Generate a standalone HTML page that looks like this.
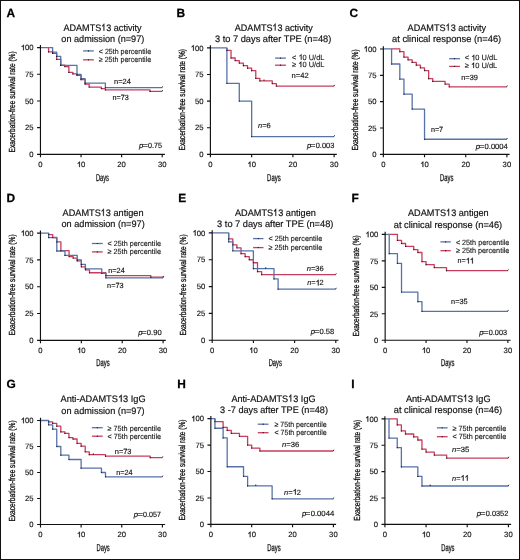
<!DOCTYPE html>
<html><head><meta charset="utf-8"><title>Kaplan-Meier curves</title>
<style>html,body{margin:0;padding:0;background:#fff;}svg{display:block;will-change:transform;text-rendering:geometricPrecision;}</style></head>
<body><svg width="520" height="560" viewBox="0 0 520 560" font-family='"Liberation Sans", sans-serif' fill="#111">
<rect x="0" y="0" width="520" height="560" fill="#fff"/>
<g><text x="6.4" y="16.6" font-size="11.9" font-weight="bold" fill="#000" stroke="#000" stroke-width="0.25">A</text><text x="63.5" y="30.7" font-size="9.4" textLength="78" lengthAdjust="spacingAndGlyphs" stroke="#111" stroke-width="0.18">ADAMTS 3 activity</text><text x="61.3" y="41.9" font-size="9.4" textLength="83" lengthAdjust="spacingAndGlyphs" stroke="#111" stroke-width="0.18">on admission (n=97)</text><path d="M48.58 47.6H48.58V51.97H52.63V53.47H56.69V59.34H60.75V65.1H64.81V66.59H68.87V72.46H72.92V73.95H76.98V75.34H81.04V79.72H85.1V84.09H89.16V87.08H101.33V88.57H105.39V89.96H150.03V91.45H162.2" fill="none" stroke="#c73d5e" stroke-width="1.3" stroke-linejoin="round"/><path d="M40.46 47.6H52.63V52.08H56.69V56.46H60.75V65.42H76.98V74.28H81.04V78.76H85.1V83.13H105.39V87.61H162.2" fill="none" stroke="#5872a8" stroke-width="1.3" stroke-linejoin="round"/><circle cx="52.63" cy="52.08" r="0.6"/><circle cx="56.69" cy="56.46" r="0.6"/><circle cx="60.75" cy="65.42" r="0.6"/><circle cx="76.98" cy="74.28" r="0.6"/><circle cx="81.04" cy="78.76" r="0.6"/><circle cx="85.1" cy="83.13" r="0.6"/><circle cx="105.39" cy="87.61" r="0.6"/><path d="M162 87.61l0.7 -1.3" stroke="#222" stroke-width="0.9" fill="none"/><circle cx="48.58" cy="51.97" r="0.6"/><circle cx="52.63" cy="53.47" r="0.6"/><circle cx="56.69" cy="59.34" r="0.6"/><circle cx="60.75" cy="65.1" r="0.6"/><circle cx="64.81" cy="66.59" r="0.6"/><circle cx="68.87" cy="72.46" r="0.6"/><circle cx="72.92" cy="73.95" r="0.6"/><circle cx="76.98" cy="75.34" r="0.6"/><circle cx="81.04" cy="79.72" r="0.6"/><circle cx="85.1" cy="84.09" r="0.6"/><circle cx="89.16" cy="87.08" r="0.6"/><circle cx="101.33" cy="88.57" r="0.6"/><circle cx="105.39" cy="89.96" r="0.6"/><circle cx="150.03" cy="91.45" r="0.6"/><path d="M162 91.45l0.7 -1.3" stroke="#222" stroke-width="0.9" fill="none"/><path d="M40.46 44.9V154.3H164.9" fill="none" stroke="#111" stroke-width="1.15"/><path d="M37.06 154.3H40.46M37.06 127.62H40.46M37.06 100.95H40.46M37.06 74.28H40.46M37.06 47.6H40.46M40.46 154.3V157.2M81.04 154.3V157.2M121.62 154.3V157.2M162.2 154.3V157.2" stroke="#111" stroke-width="1.15"/><text x="33.56" y="157.05" font-size="7.7" text-anchor="end" stroke="#111" stroke-width="0.15">0</text><text x="33.56" y="130.38" font-size="7.7" text-anchor="end" stroke="#111" stroke-width="0.15">25</text><text x="33.56" y="103.7" font-size="7.7" text-anchor="end" stroke="#111" stroke-width="0.15">50</text><text x="33.56" y="77.03" font-size="7.7" text-anchor="end" stroke="#111" stroke-width="0.15">75</text><text x="33.56" y="50.35" font-size="7.7" text-anchor="end" stroke="#111" stroke-width="0.15"> 00</text><text x="40.46" y="167.1" font-size="7.7" text-anchor="middle" stroke="#111" stroke-width="0.15">0</text><text x="81.04" y="167.1" font-size="7.7" text-anchor="middle" stroke="#111" stroke-width="0.15"> 0</text><text x="121.62" y="167.1" font-size="7.7" text-anchor="middle" stroke="#111" stroke-width="0.15">20</text><text x="162.2" y="167.1" font-size="7.7" text-anchor="middle" stroke="#111" stroke-width="0.15">30</text><path d="M83.1 50.9H93.8" stroke="#5872a8" stroke-width="1.3"/><path d="M83.1 59.8H93.8" stroke="#c73d5e" stroke-width="1.3"/><circle cx="88.45" cy="50.9" r="0.6"/><circle cx="88.45" cy="59.8" r="0.6"/><text x="98.8" y="53.5" font-size="7.6" textLength="52.4" lengthAdjust="spacingAndGlyphs" stroke="#111" stroke-width="0.1">&lt; 25th percentile</text><text x="98.8" y="62.4" font-size="7.6" textLength="52.4" lengthAdjust="spacingAndGlyphs" stroke="#111" stroke-width="0.1">≥ 25th percentile</text><text x="114.1" y="83.8" font-size="7.5" textLength="16.8" lengthAdjust="spacingAndGlyphs" stroke="#111" stroke-width="0.15">n=24</text><text x="112.6" y="99.5" font-size="7.5" textLength="16.3" lengthAdjust="spacingAndGlyphs" stroke="#111" stroke-width="0.15">n=73</text><text x="139.05" y="147.8" font-size="7.6" font-style="italic" stroke="#111" stroke-width="0.15">p</text><text x="142.2" y="147.8" font-size="7.6" textLength="5.7" lengthAdjust="spacingAndGlyphs" stroke="#111" stroke-width="0.15">=</text><text x="148.05" y="147.8" font-size="7.6" textLength="13.95" lengthAdjust="spacingAndGlyphs" stroke="#111" stroke-width="0.15">0.75</text><text transform="translate(14.5 152.4) rotate(-90)" x="0" y="0" font-size="8.8" stroke="#111" stroke-width="0.3" textLength="101" lengthAdjust="spacingAndGlyphs">Exacerbation-free survival rate (%)</text><text x="95.9" y="180.8" font-size="10" textLength="13.1" lengthAdjust="spacingAndGlyphs" stroke="#111" stroke-width="0.3">Days</text></g>
<g><text x="176.6" y="17.3" font-size="11.9" font-weight="bold" fill="#000" stroke="#000" stroke-width="0.25">B</text><text x="234.8" y="30.6" font-size="9.4" textLength="77.9" lengthAdjust="spacingAndGlyphs" stroke="#111" stroke-width="0.18">ADAMTS 3 activity</text><text x="215" y="42.1" font-size="9.4" textLength="116.3" lengthAdjust="spacingAndGlyphs" stroke="#111" stroke-width="0.18">3 to 7 days after TPE (n=48)</text><path d="M226.9 47.9H226.9V50.45H231.03V58.01H235.15V60.56H239.28V63.12H243.4V65.67H247.53V68.17H251.65V70.67H255.78V78.33H259.9V80.88H272.27V83.54H276.4V86.1H334.15" fill="none" stroke="#c73d5e" stroke-width="1.3" stroke-linejoin="round"/><path d="M210.4 47.9H226.9V83.33H239.28V101.1H251.65V136.53H334.15" fill="none" stroke="#5872a8" stroke-width="1.3" stroke-linejoin="round"/><circle cx="226.9" cy="83.33" r="0.6"/><circle cx="239.28" cy="101.1" r="0.6"/><circle cx="251.65" cy="136.53" r="0.6"/><path d="M333.95 136.53l0.7 -1.3" stroke="#222" stroke-width="0.9" fill="none"/><circle cx="226.9" cy="50.45" r="0.6"/><circle cx="231.03" cy="58.01" r="0.6"/><circle cx="235.15" cy="60.56" r="0.6"/><circle cx="239.28" cy="63.12" r="0.6"/><circle cx="243.4" cy="65.67" r="0.6"/><circle cx="247.53" cy="68.17" r="0.6"/><circle cx="251.65" cy="70.67" r="0.6"/><circle cx="255.78" cy="78.33" r="0.6"/><circle cx="259.9" cy="80.88" r="0.6"/><circle cx="272.27" cy="83.54" r="0.6"/><circle cx="276.4" cy="86.1" r="0.6"/><path d="M333.95 86.1l0.7 -1.3" stroke="#222" stroke-width="0.9" fill="none"/><path d="M264.02 80.88v-1.4" stroke="#111" stroke-width="0.9"/><path d="M210.4 45.2V154.3H336.85" fill="none" stroke="#111" stroke-width="1.15"/><path d="M207 154.3H210.4M207 127.7H210.4M207 101.1H210.4M207 74.5H210.4M207 47.9H210.4M210.4 154.3V157.2M251.65 154.3V157.2M292.9 154.3V157.2M334.15 154.3V157.2" stroke="#111" stroke-width="1.15"/><text x="203.5" y="157.05" font-size="7.7" text-anchor="end" stroke="#111" stroke-width="0.15">0</text><text x="203.5" y="130.45" font-size="7.7" text-anchor="end" stroke="#111" stroke-width="0.15">25</text><text x="203.5" y="103.85" font-size="7.7" text-anchor="end" stroke="#111" stroke-width="0.15">50</text><text x="203.5" y="77.25" font-size="7.7" text-anchor="end" stroke="#111" stroke-width="0.15">75</text><text x="203.5" y="50.65" font-size="7.7" text-anchor="end" stroke="#111" stroke-width="0.15"> 00</text><text x="210.4" y="167.1" font-size="7.7" text-anchor="middle" stroke="#111" stroke-width="0.15">0</text><text x="251.65" y="167.1" font-size="7.7" text-anchor="middle" stroke="#111" stroke-width="0.15"> 0</text><text x="292.9" y="167.1" font-size="7.7" text-anchor="middle" stroke="#111" stroke-width="0.15">20</text><text x="334.15" y="167.1" font-size="7.7" text-anchor="middle" stroke="#111" stroke-width="0.15">30</text><path d="M275.1 58.1H285.9" stroke="#5872a8" stroke-width="1.3"/><path d="M275.1 65.2H285.9" stroke="#c73d5e" stroke-width="1.3"/><circle cx="280.5" cy="58.1" r="0.6"/><circle cx="280.5" cy="65.2" r="0.6"/><text x="292.1" y="59.8" font-size="7.6" textLength="32.3" lengthAdjust="spacingAndGlyphs" stroke="#111" stroke-width="0.1">&lt;  0 U/dL</text><text x="292.1" y="67.2" font-size="7.6" textLength="32.3" lengthAdjust="spacingAndGlyphs" stroke="#111" stroke-width="0.1">≥  0 U/dL</text><text x="291.6" y="77.7" font-size="7.5" textLength="17.1" lengthAdjust="spacingAndGlyphs" stroke="#111" stroke-width="0.15">n=42</text><text x="258.1" y="128" font-size="7.5" textLength="12.7" lengthAdjust="spacingAndGlyphs" stroke="#111" stroke-width="0.15"><tspan font-style="italic">n</tspan>=6</text><text x="306.95" y="147.6" font-size="7.6" font-style="italic" stroke="#111" stroke-width="0.15">p</text><text x="310.1" y="147.6" font-size="7.6" textLength="5.5" lengthAdjust="spacingAndGlyphs" stroke="#111" stroke-width="0.15">=</text><text x="315.75" y="147.6" font-size="7.6" textLength="18.55" lengthAdjust="spacingAndGlyphs" stroke="#111" stroke-width="0.15">0.003</text><text transform="translate(184.5 150.5) rotate(-90)" x="0" y="0" font-size="8.8" stroke="#111" stroke-width="0.3" textLength="101.5" lengthAdjust="spacingAndGlyphs">Exacerbation-free survival rate (%)</text><text x="267.1" y="180.8" font-size="10" textLength="13.6" lengthAdjust="spacingAndGlyphs" stroke="#111" stroke-width="0.3">Days</text></g>
<g><text x="349.6" y="16.8" font-size="11.9" font-weight="bold" fill="#000" stroke="#000" stroke-width="0.25">C</text><text x="407.6" y="30.6" font-size="9.4" textLength="78.5" lengthAdjust="spacingAndGlyphs" stroke="#111" stroke-width="0.18">ADAMTS 3 activity</text><text x="392" y="42.2" font-size="9.4" textLength="109.2" lengthAdjust="spacingAndGlyphs" stroke="#111" stroke-width="0.18">at clinical response (n=46)</text><path d="M391.59 48.96H399.82V51.7H403.94V57.07H408.06V59.81H412.18V62.44H416.3V65.18H420.42V67.87H424.53V70.55H428.65V78.67H432.77V81.4H445.12V84.04H449.24V86.78H506.9" fill="none" stroke="#c73d5e" stroke-width="1.3" stroke-linejoin="round"/><path d="M383.35 48.96H391.59V64.02H399.82V79.09H403.94V94.15H412.18V109.11H424.53V139.24H506.9" fill="none" stroke="#5872a8" stroke-width="1.3" stroke-linejoin="round"/><circle cx="391.59" cy="64.02" r="0.6"/><circle cx="399.82" cy="79.09" r="0.6"/><circle cx="403.94" cy="94.15" r="0.6"/><circle cx="412.18" cy="109.11" r="0.6"/><circle cx="424.53" cy="139.24" r="0.6"/><path d="M506.7 139.24l0.7 -1.3" stroke="#222" stroke-width="0.9" fill="none"/><circle cx="399.82" cy="51.7" r="0.6"/><circle cx="403.94" cy="57.07" r="0.6"/><circle cx="408.06" cy="59.81" r="0.6"/><circle cx="412.18" cy="62.44" r="0.6"/><circle cx="416.3" cy="65.18" r="0.6"/><circle cx="420.42" cy="67.87" r="0.6"/><circle cx="424.53" cy="70.55" r="0.6"/><circle cx="428.65" cy="78.67" r="0.6"/><circle cx="432.77" cy="81.4" r="0.6"/><circle cx="445.12" cy="84.04" r="0.6"/><circle cx="449.24" cy="86.78" r="0.6"/><path d="M506.7 86.78l0.7 -1.3" stroke="#222" stroke-width="0.9" fill="none"/><path d="M383.35 46.26V154.3H509.6" fill="none" stroke="#111" stroke-width="1.15"/><path d="M379.95 154.3H383.35M379.95 127.97H383.35M379.95 101.63H383.35M379.95 75.3H383.35M379.95 48.96H383.35M383.35 154.3V157.2M424.53 154.3V157.2M465.72 154.3V157.2M506.9 154.3V157.2" stroke="#111" stroke-width="1.15"/><text x="376.45" y="157.05" font-size="7.7" text-anchor="end" stroke="#111" stroke-width="0.15">0</text><text x="376.45" y="130.72" font-size="7.7" text-anchor="end" stroke="#111" stroke-width="0.15">25</text><text x="376.45" y="104.38" font-size="7.7" text-anchor="end" stroke="#111" stroke-width="0.15">50</text><text x="376.45" y="78.05" font-size="7.7" text-anchor="end" stroke="#111" stroke-width="0.15">75</text><text x="376.45" y="51.71" font-size="7.7" text-anchor="end" stroke="#111" stroke-width="0.15"> 00</text><text x="383.35" y="167.1" font-size="7.7" text-anchor="middle" stroke="#111" stroke-width="0.15">0</text><text x="424.53" y="167.1" font-size="7.7" text-anchor="middle" stroke="#111" stroke-width="0.15"> 0</text><text x="465.72" y="167.1" font-size="7.7" text-anchor="middle" stroke="#111" stroke-width="0.15">20</text><text x="506.9" y="167.1" font-size="7.7" text-anchor="middle" stroke="#111" stroke-width="0.15">30</text><path d="M449.2 58.7H459.9" stroke="#5872a8" stroke-width="1.3"/><path d="M449.2 66.4H459.9" stroke="#c73d5e" stroke-width="1.3"/><circle cx="454.55" cy="58.7" r="0.6"/><circle cx="454.55" cy="66.4" r="0.6"/><text x="464.8" y="60.4" font-size="7.6" textLength="32.5" lengthAdjust="spacingAndGlyphs" stroke="#111" stroke-width="0.1">&lt;  0 U/dL</text><text x="464.8" y="68.1" font-size="7.6" textLength="32.5" lengthAdjust="spacingAndGlyphs" stroke="#111" stroke-width="0.1">≥  0 U/dL</text><text x="461.2" y="79.6" font-size="7.5" textLength="16.7" lengthAdjust="spacingAndGlyphs" stroke="#111" stroke-width="0.15">n=39</text><text x="430.9" y="132.4" font-size="7.5" textLength="12.2" lengthAdjust="spacingAndGlyphs" stroke="#111" stroke-width="0.15">n=7</text><text x="475.65" y="148.8" font-size="7.6" font-style="italic" stroke="#111" stroke-width="0.15">p</text><text x="478.8" y="148.8" font-size="7.6" textLength="5.6" lengthAdjust="spacingAndGlyphs" stroke="#111" stroke-width="0.15">=</text><text x="484.55" y="148.8" font-size="7.6" textLength="23.25" lengthAdjust="spacingAndGlyphs" stroke="#111" stroke-width="0.15">0.0004</text><text transform="translate(357.5 150.6) rotate(-90)" x="0" y="0" font-size="8.8" stroke="#111" stroke-width="0.3" textLength="101.2" lengthAdjust="spacingAndGlyphs">Exacerbation-free survival rate (%)</text><text x="440" y="180.8" font-size="10" textLength="13.4" lengthAdjust="spacingAndGlyphs" stroke="#111" stroke-width="0.3">Days</text></g>
<g><text x="6.6" y="201.5" font-size="11.9" font-weight="bold" fill="#000" stroke="#000" stroke-width="0.25">D</text><text x="62.6" y="215.8" font-size="9.4" textLength="80.9" lengthAdjust="spacingAndGlyphs" stroke="#111" stroke-width="0.18">ADAMTS 3 antigen</text><text x="61.5" y="226.6" font-size="9.4" textLength="83.2" lengthAdjust="spacingAndGlyphs" stroke="#111" stroke-width="0.18">on admission (n=97)</text><path d="M48.64 233.1H48.64V234.6H52.72V237.5H56.81V241.89H60.9V250.68H69.08V256.58H73.16V258.08H77.25V260.97H81.34V266.87H85.43V269.82H89.52V272.76H105.87V275.66H150.84V277.16H163.1" fill="none" stroke="#c73d5e" stroke-width="1.3" stroke-linejoin="round"/><path d="M40.46 233.1H48.64V237.6H56.81V251H64.99V255.4H77.25V259.9H81.34V264.4H85.43V268.8H101.78V273.3H105.87V277.8H163.1" fill="none" stroke="#5872a8" stroke-width="1.3" stroke-linejoin="round"/><circle cx="48.64" cy="237.6" r="0.6"/><circle cx="56.81" cy="251" r="0.6"/><circle cx="64.99" cy="255.4" r="0.6"/><circle cx="77.25" cy="259.9" r="0.6"/><circle cx="81.34" cy="264.4" r="0.6"/><circle cx="85.43" cy="268.8" r="0.6"/><circle cx="101.78" cy="273.3" r="0.6"/><circle cx="105.87" cy="277.8" r="0.6"/><path d="M162.9 277.8l0.7 -1.3" stroke="#222" stroke-width="0.9" fill="none"/><circle cx="48.64" cy="234.6" r="0.6"/><circle cx="52.72" cy="237.5" r="0.6"/><circle cx="56.81" cy="241.89" r="0.6"/><circle cx="60.9" cy="250.68" r="0.6"/><circle cx="69.08" cy="256.58" r="0.6"/><circle cx="73.16" cy="258.08" r="0.6"/><circle cx="77.25" cy="260.97" r="0.6"/><circle cx="81.34" cy="266.87" r="0.6"/><circle cx="85.43" cy="269.82" r="0.6"/><circle cx="89.52" cy="272.76" r="0.6"/><circle cx="105.87" cy="275.66" r="0.6"/><circle cx="150.84" cy="277.16" r="0.6"/><path d="M162.9 277.16l0.7 -1.3" stroke="#222" stroke-width="0.9" fill="none"/><path d="M40.46 230.4V340.3H165.8" fill="none" stroke="#111" stroke-width="1.15"/><path d="M37.06 340.3H40.46M37.06 313.5H40.46M37.06 286.7H40.46M37.06 259.9H40.46M37.06 233.1H40.46M40.46 340.3V343.2M81.34 340.3V343.2M122.22 340.3V343.2M163.1 340.3V343.2" stroke="#111" stroke-width="1.15"/><text x="33.56" y="343.05" font-size="7.7" text-anchor="end" stroke="#111" stroke-width="0.15">0</text><text x="33.56" y="316.25" font-size="7.7" text-anchor="end" stroke="#111" stroke-width="0.15">25</text><text x="33.56" y="289.45" font-size="7.7" text-anchor="end" stroke="#111" stroke-width="0.15">50</text><text x="33.56" y="262.65" font-size="7.7" text-anchor="end" stroke="#111" stroke-width="0.15">75</text><text x="33.56" y="235.85" font-size="7.7" text-anchor="end" stroke="#111" stroke-width="0.15"> 00</text><text x="40.46" y="353.1" font-size="7.7" text-anchor="middle" stroke="#111" stroke-width="0.15">0</text><text x="81.34" y="353.1" font-size="7.7" text-anchor="middle" stroke="#111" stroke-width="0.15"> 0</text><text x="122.22" y="353.1" font-size="7.7" text-anchor="middle" stroke="#111" stroke-width="0.15">20</text><text x="163.1" y="353.1" font-size="7.7" text-anchor="middle" stroke="#111" stroke-width="0.15">30</text><path d="M91.9 243.5H102.7" stroke="#5872a8" stroke-width="1.3"/><path d="M91.9 251.9H102.7" stroke="#c73d5e" stroke-width="1.3"/><circle cx="97.3" cy="243.5" r="0.6"/><circle cx="97.3" cy="251.9" r="0.6"/><text x="107.6" y="245.8" font-size="7.6" textLength="53.4" lengthAdjust="spacingAndGlyphs" stroke="#111" stroke-width="0.1">&lt; 25th percentile</text><text x="107.6" y="254.2" font-size="7.6" textLength="53.4" lengthAdjust="spacingAndGlyphs" stroke="#111" stroke-width="0.1">≥ 25th percentile</text><text x="108.3" y="272.6" font-size="7.5" textLength="16.4" lengthAdjust="spacingAndGlyphs" stroke="#111" stroke-width="0.15">n=24</text><text x="107.1" y="287.5" font-size="7.5" textLength="16.5" lengthAdjust="spacingAndGlyphs" stroke="#111" stroke-width="0.15">n=73</text><text x="138.15" y="335.3" font-size="7.6" font-style="italic" stroke="#111" stroke-width="0.15">p</text><text x="141.3" y="335.3" font-size="7.6" textLength="5.4" lengthAdjust="spacingAndGlyphs" stroke="#111" stroke-width="0.15">=</text><text x="146.85" y="335.3" font-size="7.6" textLength="14.75" lengthAdjust="spacingAndGlyphs" stroke="#111" stroke-width="0.15">0.90</text><text transform="translate(14.5 335.6) rotate(-90)" x="0" y="0" font-size="8.8" stroke="#111" stroke-width="0.3" textLength="101.2" lengthAdjust="spacingAndGlyphs">Exacerbation-free survival rate (%)</text><text x="96.3" y="366.4" font-size="10" textLength="13.4" lengthAdjust="spacingAndGlyphs" stroke="#111" stroke-width="0.3">Days</text></g>
<g><text x="178.2" y="201.5" font-size="11.9" font-weight="bold" fill="#000" stroke="#000" stroke-width="0.25">E</text><text x="235" y="215.9" font-size="9.4" textLength="80.8" lengthAdjust="spacingAndGlyphs" stroke="#111" stroke-width="0.18">ADAMTS 3 antigen</text><text x="217.1" y="226.9" font-size="9.4" textLength="116.3" lengthAdjust="spacingAndGlyphs" stroke="#111" stroke-width="0.18">3 to 7 days after TPE (n=48)</text><path d="M228.68 232.9H228.68V238.91H232.8V244.81H236.92V247.81H241.04V253.72H245.16V256.72H249.28V259.73H253.4V262.73H257.52V271.64H261.64V274.64H335.8" fill="none" stroke="#c73d5e" stroke-width="1.3" stroke-linejoin="round"/><path d="M212.2 232.9H228.68V241.81H232.8V250.82H253.4V268.63H274V278.93H278.12V289.13H335.8" fill="none" stroke="#5872a8" stroke-width="1.3" stroke-linejoin="round"/><circle cx="228.68" cy="241.81" r="0.6"/><circle cx="232.8" cy="250.82" r="0.6"/><circle cx="253.4" cy="268.63" r="0.6"/><circle cx="274" cy="278.93" r="0.6"/><circle cx="278.12" cy="289.13" r="0.6"/><path d="M335.6 289.13l0.7 -1.3" stroke="#222" stroke-width="0.9" fill="none"/><circle cx="228.68" cy="238.91" r="0.6"/><circle cx="232.8" cy="244.81" r="0.6"/><circle cx="236.92" cy="247.81" r="0.6"/><circle cx="241.04" cy="253.72" r="0.6"/><circle cx="245.16" cy="256.72" r="0.6"/><circle cx="249.28" cy="259.73" r="0.6"/><circle cx="253.4" cy="262.73" r="0.6"/><circle cx="257.52" cy="271.64" r="0.6"/><circle cx="261.64" cy="274.64" r="0.6"/><path d="M335.6 274.64l0.7 -1.3" stroke="#222" stroke-width="0.9" fill="none"/><path d="M265.76 268.63v-1.4" stroke="#111" stroke-width="0.9"/><path d="M212.2 230.2V340.2H338.5" fill="none" stroke="#111" stroke-width="1.15"/><path d="M208.8 340.2H212.2M208.8 313.38H212.2M208.8 286.55H212.2M208.8 259.73H212.2M208.8 232.9H212.2M212.2 340.2V343.1M253.4 340.2V343.1M294.6 340.2V343.1M335.8 340.2V343.1" stroke="#111" stroke-width="1.15"/><text x="205.3" y="342.95" font-size="7.7" text-anchor="end" stroke="#111" stroke-width="0.15">0</text><text x="205.3" y="316.12" font-size="7.7" text-anchor="end" stroke="#111" stroke-width="0.15">25</text><text x="205.3" y="289.3" font-size="7.7" text-anchor="end" stroke="#111" stroke-width="0.15">50</text><text x="205.3" y="262.48" font-size="7.7" text-anchor="end" stroke="#111" stroke-width="0.15">75</text><text x="205.3" y="235.65" font-size="7.7" text-anchor="end" stroke="#111" stroke-width="0.15"> 00</text><text x="212.2" y="353" font-size="7.7" text-anchor="middle" stroke="#111" stroke-width="0.15">0</text><text x="253.4" y="353" font-size="7.7" text-anchor="middle" stroke="#111" stroke-width="0.15"> 0</text><text x="294.6" y="353" font-size="7.7" text-anchor="middle" stroke="#111" stroke-width="0.15">20</text><text x="335.8" y="353" font-size="7.7" text-anchor="middle" stroke="#111" stroke-width="0.15">30</text><path d="M253.1 238.6H263.5" stroke="#5872a8" stroke-width="1.3"/><path d="M253.1 247.6H263.5" stroke="#c73d5e" stroke-width="1.3"/><circle cx="258.3" cy="238.6" r="0.6"/><circle cx="258.3" cy="247.6" r="0.6"/><text x="268.5" y="241" font-size="7.6" textLength="53.7" lengthAdjust="spacingAndGlyphs" stroke="#111" stroke-width="0.1">&lt; 25th percentile</text><text x="268.5" y="250.2" font-size="7.6" textLength="53.7" lengthAdjust="spacingAndGlyphs" stroke="#111" stroke-width="0.1">≥ 25th percentile</text><text x="306.7" y="271.4" font-size="7.5" textLength="17" lengthAdjust="spacingAndGlyphs" stroke="#111" stroke-width="0.15"><tspan font-style="italic">n</tspan>=36</text><text x="307.2" y="285.4" font-size="7.5" textLength="16.5" lengthAdjust="spacingAndGlyphs" stroke="#111" stroke-width="0.15"><tspan font-style="italic">n</tspan>= 2</text><text x="310.85" y="334.3" font-size="7.6" font-style="italic" stroke="#111" stroke-width="0.15">p</text><text x="314" y="334.3" font-size="7.6" textLength="5.4" lengthAdjust="spacingAndGlyphs" stroke="#111" stroke-width="0.15">=</text><text x="319.55" y="334.3" font-size="7.6" textLength="14.75" lengthAdjust="spacingAndGlyphs" stroke="#111" stroke-width="0.15">0.58</text><text transform="translate(186.4 335.6) rotate(-90)" x="0" y="0" font-size="8.8" stroke="#111" stroke-width="0.3" textLength="101.2" lengthAdjust="spacingAndGlyphs">Exacerbation-free survival rate (%)</text><text x="268.7" y="366.4" font-size="10" textLength="13.2" lengthAdjust="spacingAndGlyphs" stroke="#111" stroke-width="0.3">Days</text></g>
<g><text x="351.6" y="201.6" font-size="11.9" font-weight="bold" fill="#000" stroke="#000" stroke-width="0.25">F</text><text x="408" y="215.7" font-size="9.4" textLength="80.7" lengthAdjust="spacingAndGlyphs" stroke="#111" stroke-width="0.18">ADAMTS 3 antigen</text><text x="393.8" y="227.6" font-size="9.4" textLength="108.4" lengthAdjust="spacingAndGlyphs" stroke="#111" stroke-width="0.18">at clinical response (n=46)</text><path d="M389.24 234.4H397.42V240.43H401.52V243.5H405.61V246.46H413.79V249.53H417.88V252.49H421.97V261.59H426.07V264.66H434.25V267.62H446.52V270.69H507.9" fill="none" stroke="#c73d5e" stroke-width="1.3" stroke-linejoin="round"/><path d="M385.15 234.4H389.24V253.66H397.42V263.28H401.52V292.06H417.88V301.69H421.97V311.32H507.9" fill="none" stroke="#5872a8" stroke-width="1.3" stroke-linejoin="round"/><circle cx="389.24" cy="253.66" r="0.6"/><circle cx="397.42" cy="263.28" r="0.6"/><circle cx="401.52" cy="292.06" r="0.6"/><circle cx="417.88" cy="301.69" r="0.6"/><circle cx="421.97" cy="311.32" r="0.6"/><path d="M507.7 311.32l0.7 -1.3" stroke="#222" stroke-width="0.9" fill="none"/><circle cx="397.42" cy="240.43" r="0.6"/><circle cx="401.52" cy="243.5" r="0.6"/><circle cx="405.61" cy="246.46" r="0.6"/><circle cx="413.79" cy="249.53" r="0.6"/><circle cx="417.88" cy="252.49" r="0.6"/><circle cx="421.97" cy="261.59" r="0.6"/><circle cx="426.07" cy="264.66" r="0.6"/><circle cx="434.25" cy="267.62" r="0.6"/><circle cx="446.52" cy="270.69" r="0.6"/><path d="M507.7 270.69l0.7 -1.3" stroke="#222" stroke-width="0.9" fill="none"/><path d="M385.15 231.7V340.2H510.6" fill="none" stroke="#111" stroke-width="1.15"/><path d="M381.75 340.2H385.15M381.75 313.75H385.15M381.75 287.3H385.15M381.75 260.85H385.15M381.75 234.4H385.15M385.15 340.2V343.1M426.07 340.2V343.1M466.98 340.2V343.1M507.9 340.2V343.1" stroke="#111" stroke-width="1.15"/><text x="378.25" y="342.95" font-size="7.7" text-anchor="end" stroke="#111" stroke-width="0.15">0</text><text x="378.25" y="316.5" font-size="7.7" text-anchor="end" stroke="#111" stroke-width="0.15">25</text><text x="378.25" y="290.05" font-size="7.7" text-anchor="end" stroke="#111" stroke-width="0.15">50</text><text x="378.25" y="263.6" font-size="7.7" text-anchor="end" stroke="#111" stroke-width="0.15">75</text><text x="378.25" y="237.15" font-size="7.7" text-anchor="end" stroke="#111" stroke-width="0.15"> 00</text><text x="385.15" y="353" font-size="7.7" text-anchor="middle" stroke="#111" stroke-width="0.15">0</text><text x="426.07" y="353" font-size="7.7" text-anchor="middle" stroke="#111" stroke-width="0.15"> 0</text><text x="466.98" y="353" font-size="7.7" text-anchor="middle" stroke="#111" stroke-width="0.15">20</text><text x="507.9" y="353" font-size="7.7" text-anchor="middle" stroke="#111" stroke-width="0.15">30</text><path d="M440.4 241.9H450.8" stroke="#5872a8" stroke-width="1.3"/><path d="M440.4 250.7H450.8" stroke="#c73d5e" stroke-width="1.3"/><circle cx="445.6" cy="241.9" r="0.6"/><circle cx="445.6" cy="250.7" r="0.6"/><text x="455.9" y="244.5" font-size="7.6" textLength="53.5" lengthAdjust="spacingAndGlyphs" stroke="#111" stroke-width="0.1">&lt; 25th percentile</text><text x="455.9" y="253.1" font-size="7.6" textLength="53.5" lengthAdjust="spacingAndGlyphs" stroke="#111" stroke-width="0.1">≥ 25th percentile</text><text x="457.6" y="263.4" font-size="7.5" textLength="16.1" lengthAdjust="spacingAndGlyphs" stroke="#111" stroke-width="0.15">n=  </text><text x="451.1" y="303.6" font-size="7.5" textLength="16.5" lengthAdjust="spacingAndGlyphs" stroke="#111" stroke-width="0.15">n=35</text><text x="479.3" y="335.3" font-size="7.6" font-style="italic" stroke="#111" stroke-width="0.15">p</text><text x="482.45" y="335.3" font-size="7.6" textLength="6.15" lengthAdjust="spacingAndGlyphs" stroke="#111" stroke-width="0.15">=</text><text x="488.75" y="335.3" font-size="7.6" textLength="18.25" lengthAdjust="spacingAndGlyphs" stroke="#111" stroke-width="0.15">0.003</text><text transform="translate(359.4 336.5) rotate(-90)" x="0" y="0" font-size="8.8" stroke="#111" stroke-width="0.3" textLength="101.2" lengthAdjust="spacingAndGlyphs">Exacerbation-free survival rate (%)</text><text x="441.1" y="366.4" font-size="10" textLength="13.4" lengthAdjust="spacingAndGlyphs" stroke="#111" stroke-width="0.3">Days</text></g>
<g><text x="6.6" y="387.6" font-size="11.9" font-weight="bold" fill="#000" stroke="#000" stroke-width="0.25">G</text><text x="60.5" y="401.8" font-size="9.4" textLength="85.1" lengthAdjust="spacingAndGlyphs" stroke="#111" stroke-width="0.18">Anti-ADAMTS 3 IgG</text><text x="61.3" y="413.5" font-size="9.4" textLength="83.3" lengthAdjust="spacingAndGlyphs" stroke="#111" stroke-width="0.18">on admission (n=97)</text><path d="M48.63 420.5H48.63V421.96H52.69V423.31H56.75V426.22H60.82V431.94H64.88V433.29H68.94V437.56H73.01V439.01H77.07V443.28H81.13V446.19H85.2V451.8H89.26V454.72H105.51V456.17H150.21V457.63H162.4" fill="none" stroke="#c73d5e" stroke-width="1.3" stroke-linejoin="round"/><path d="M40.5 420.5H48.63V424.87H52.69V429.13H56.75V446.5H60.82V455.13H68.94V459.5H81.13V468.13H101.45V472.5H105.51V476.87H162.4" fill="none" stroke="#5872a8" stroke-width="1.3" stroke-linejoin="round"/><circle cx="48.63" cy="424.87" r="0.6"/><circle cx="52.69" cy="429.13" r="0.6"/><circle cx="56.75" cy="446.5" r="0.6"/><circle cx="60.82" cy="455.13" r="0.6"/><circle cx="68.94" cy="459.5" r="0.6"/><circle cx="81.13" cy="468.13" r="0.6"/><circle cx="101.45" cy="472.5" r="0.6"/><circle cx="105.51" cy="476.87" r="0.6"/><path d="M162.2 476.87l0.7 -1.3" stroke="#222" stroke-width="0.9" fill="none"/><circle cx="48.63" cy="421.96" r="0.6"/><circle cx="52.69" cy="423.31" r="0.6"/><circle cx="56.75" cy="426.22" r="0.6"/><circle cx="60.82" cy="431.94" r="0.6"/><circle cx="64.88" cy="433.29" r="0.6"/><circle cx="68.94" cy="437.56" r="0.6"/><circle cx="73.01" cy="439.01" r="0.6"/><circle cx="77.07" cy="443.28" r="0.6"/><circle cx="81.13" cy="446.19" r="0.6"/><circle cx="85.2" cy="451.8" r="0.6"/><circle cx="89.26" cy="454.72" r="0.6"/><circle cx="105.51" cy="456.17" r="0.6"/><circle cx="150.21" cy="457.63" r="0.6"/><path d="M162.2 457.63l0.7 -1.3" stroke="#222" stroke-width="0.9" fill="none"/><path d="M93.32 454.72v-1.4" stroke="#111" stroke-width="0.9"/><path d="M40.5 417.8V524.5H165.1" fill="none" stroke="#111" stroke-width="1.15"/><path d="M37.1 524.5H40.5M37.1 498.5H40.5M37.1 472.5H40.5M37.1 446.5H40.5M37.1 420.5H40.5M40.5 524.5V527.4M81.13 524.5V527.4M121.77 524.5V527.4M162.4 524.5V527.4" stroke="#111" stroke-width="1.15"/><text x="33.6" y="527.25" font-size="7.7" text-anchor="end" stroke="#111" stroke-width="0.15">0</text><text x="33.6" y="501.25" font-size="7.7" text-anchor="end" stroke="#111" stroke-width="0.15">25</text><text x="33.6" y="475.25" font-size="7.7" text-anchor="end" stroke="#111" stroke-width="0.15">50</text><text x="33.6" y="449.25" font-size="7.7" text-anchor="end" stroke="#111" stroke-width="0.15">75</text><text x="33.6" y="423.25" font-size="7.7" text-anchor="end" stroke="#111" stroke-width="0.15"> 00</text><text x="40.5" y="537.3" font-size="7.7" text-anchor="middle" stroke="#111" stroke-width="0.15">0</text><text x="81.13" y="537.3" font-size="7.7" text-anchor="middle" stroke="#111" stroke-width="0.15"> 0</text><text x="121.77" y="537.3" font-size="7.7" text-anchor="middle" stroke="#111" stroke-width="0.15">20</text><text x="162.4" y="537.3" font-size="7.7" text-anchor="middle" stroke="#111" stroke-width="0.15">30</text><path d="M91.9 427.7H102.7" stroke="#5872a8" stroke-width="1.3"/><path d="M91.9 436.2H102.7" stroke="#c73d5e" stroke-width="1.3"/><circle cx="97.3" cy="427.7" r="0.6"/><circle cx="97.3" cy="436.2" r="0.6"/><text x="107.6" y="430.5" font-size="7.6" textLength="53.4" lengthAdjust="spacingAndGlyphs" stroke="#111" stroke-width="0.1">≥ 75th percentile</text><text x="107.6" y="438.8" font-size="7.6" textLength="53.4" lengthAdjust="spacingAndGlyphs" stroke="#111" stroke-width="0.1">&lt; 75th percentile</text><text x="114.8" y="454" font-size="7.5" textLength="16.7" lengthAdjust="spacingAndGlyphs" stroke="#111" stroke-width="0.15">n=73</text><text x="116.2" y="475" font-size="7.5" textLength="16.3" lengthAdjust="spacingAndGlyphs" stroke="#111" stroke-width="0.15">n=24</text><text x="133.75" y="517.3" font-size="7.6" font-style="italic" stroke="#111" stroke-width="0.15">p</text><text x="136.9" y="517.3" font-size="7.6" textLength="6" lengthAdjust="spacingAndGlyphs" stroke="#111" stroke-width="0.15">=</text><text x="143.05" y="517.3" font-size="7.6" textLength="17.85" lengthAdjust="spacingAndGlyphs" stroke="#111" stroke-width="0.15">0.057</text><text transform="translate(14.5 521.6) rotate(-90)" x="0" y="0" font-size="8.8" stroke="#111" stroke-width="0.3" textLength="101.2" lengthAdjust="spacingAndGlyphs">Exacerbation-free survival rate (%)</text><text x="96.5" y="551.1" font-size="10" textLength="13.2" lengthAdjust="spacingAndGlyphs" stroke="#111" stroke-width="0.3">Days</text></g>
<g><text x="177.3" y="388" font-size="11.9" font-weight="bold" fill="#000" stroke="#000" stroke-width="0.25">H</text><text x="231.4" y="401.5" font-size="9.4" textLength="84.2" lengthAdjust="spacingAndGlyphs" stroke="#111" stroke-width="0.18">Anti-ADAMTS 3 IgG</text><text x="220.1" y="413.3" font-size="9.4" textLength="107.9" lengthAdjust="spacingAndGlyphs" stroke="#111" stroke-width="0.18">3 -7 days after TPE (n=48)</text><path d="M214.94 418.65H214.94V421.61H223.1V427.43H227.19V430.39H231.27V433.35H239.44V436.31H247.61V445.09H251.7V448.05H259.87V451.01H333.4" fill="none" stroke="#c73d5e" stroke-width="1.3" stroke-linejoin="round"/><path d="M210.85 418.65H214.94V428.27H223.1V437.9H227.19V466.77H243.53V476.28H247.61V485.91H272.12V498.81H333.4" fill="none" stroke="#5872a8" stroke-width="1.3" stroke-linejoin="round"/><circle cx="214.94" cy="428.27" r="0.6"/><circle cx="223.1" cy="437.9" r="0.6"/><circle cx="227.19" cy="466.77" r="0.6"/><circle cx="243.53" cy="476.28" r="0.6"/><circle cx="247.61" cy="485.91" r="0.6"/><circle cx="272.12" cy="498.81" r="0.6"/><path d="M333.2 498.81l0.7 -1.3" stroke="#222" stroke-width="0.9" fill="none"/><circle cx="214.94" cy="421.61" r="0.6"/><circle cx="223.1" cy="427.43" r="0.6"/><circle cx="227.19" cy="430.39" r="0.6"/><circle cx="231.27" cy="433.35" r="0.6"/><circle cx="239.44" cy="436.31" r="0.6"/><circle cx="247.61" cy="445.09" r="0.6"/><circle cx="251.7" cy="448.05" r="0.6"/><circle cx="259.87" cy="451.01" r="0.6"/><path d="M333.2 451.01l0.7 -1.3" stroke="#222" stroke-width="0.9" fill="none"/><path d="M255.78 485.91v-1.4" stroke="#111" stroke-width="0.9"/><path d="M210.85 415.95V524.4H336.1" fill="none" stroke="#111" stroke-width="1.15"/><path d="M207.45 524.4H210.85M207.45 497.96H210.85M207.45 471.52H210.85M207.45 445.09H210.85M207.45 418.65H210.85M210.85 524.4V527.3M251.7 524.4V527.3M292.55 524.4V527.3M333.4 524.4V527.3" stroke="#111" stroke-width="1.15"/><text x="203.95" y="527.15" font-size="7.7" text-anchor="end" stroke="#111" stroke-width="0.15">0</text><text x="203.95" y="500.71" font-size="7.7" text-anchor="end" stroke="#111" stroke-width="0.15">25</text><text x="203.95" y="474.27" font-size="7.7" text-anchor="end" stroke="#111" stroke-width="0.15">50</text><text x="203.95" y="447.84" font-size="7.7" text-anchor="end" stroke="#111" stroke-width="0.15">75</text><text x="203.95" y="421.4" font-size="7.7" text-anchor="end" stroke="#111" stroke-width="0.15"> 00</text><text x="210.85" y="537.2" font-size="7.7" text-anchor="middle" stroke="#111" stroke-width="0.15">0</text><text x="251.7" y="537.2" font-size="7.7" text-anchor="middle" stroke="#111" stroke-width="0.15"> 0</text><text x="292.55" y="537.2" font-size="7.7" text-anchor="middle" stroke="#111" stroke-width="0.15">20</text><text x="333.4" y="537.2" font-size="7.7" text-anchor="middle" stroke="#111" stroke-width="0.15">30</text><path d="M257.8 424.2H268.5" stroke="#5872a8" stroke-width="1.3"/><path d="M257.8 432.7H268.5" stroke="#c73d5e" stroke-width="1.3"/><circle cx="263.15" cy="424.2" r="0.6"/><circle cx="263.15" cy="432.7" r="0.6"/><text x="274.5" y="427" font-size="7.6" textLength="52.3" lengthAdjust="spacingAndGlyphs" stroke="#111" stroke-width="0.1">≥ 75th percentile</text><text x="274.5" y="435.3" font-size="7.6" textLength="52.3" lengthAdjust="spacingAndGlyphs" stroke="#111" stroke-width="0.1">&lt; 75th percentile</text><text x="282.1" y="447.3" font-size="7.5" textLength="17.3" lengthAdjust="spacingAndGlyphs" stroke="#111" stroke-width="0.15"><tspan font-style="italic">n</tspan>=36</text><text x="284.1" y="494.6" font-size="7.5" textLength="16.9" lengthAdjust="spacingAndGlyphs" stroke="#111" stroke-width="0.15"><tspan font-style="italic">n</tspan>= 2</text><text x="301.95" y="516.4" font-size="7.6" font-style="italic" stroke="#111" stroke-width="0.15">p</text><text x="305.1" y="516.4" font-size="7.6" textLength="5.4" lengthAdjust="spacingAndGlyphs" stroke="#111" stroke-width="0.15">=</text><text x="310.65" y="516.4" font-size="7.6" textLength="23.6" lengthAdjust="spacingAndGlyphs" stroke="#111" stroke-width="0.15">0.0044</text><text transform="translate(185.4 520.5) rotate(-90)" x="0" y="0" font-size="8.8" stroke="#111" stroke-width="0.3" textLength="100.9" lengthAdjust="spacingAndGlyphs">Exacerbation-free survival rate (%)</text><text x="267.3" y="551.1" font-size="10" textLength="13.4" lengthAdjust="spacingAndGlyphs" stroke="#111" stroke-width="0.3">Days</text></g>
<g><text x="351.3" y="388" font-size="11.9" font-weight="bold" fill="#000" stroke="#000" stroke-width="0.25">I</text><text x="405.9" y="401.5" font-size="9.4" textLength="84.7" lengthAdjust="spacingAndGlyphs" stroke="#111" stroke-width="0.18">Anti-ADAMTS 3 IgG</text><text x="393.8" y="413.3" font-size="9.4" textLength="108.4" lengthAdjust="spacingAndGlyphs" stroke="#111" stroke-width="0.18">at clinical response (n=46)</text><path d="M389.02 418.9H397.25V424.91H401.37V430.93H405.48V433.99H413.72V436.94H417.83V440H421.95V449.07H426.07V452.03H434.3V455.09H446.65V458.04H508.4" fill="none" stroke="#c73d5e" stroke-width="1.3" stroke-linejoin="round"/><path d="M384.9 418.9H389.02V438.1H397.25V447.7H401.37V466.9H417.83V476.4H421.95V486H508.4" fill="none" stroke="#5872a8" stroke-width="1.3" stroke-linejoin="round"/><circle cx="389.02" cy="438.1" r="0.6"/><circle cx="397.25" cy="447.7" r="0.6"/><circle cx="401.37" cy="466.9" r="0.6"/><circle cx="417.83" cy="476.4" r="0.6"/><circle cx="421.95" cy="486" r="0.6"/><path d="M508.2 486l0.7 -1.3" stroke="#222" stroke-width="0.9" fill="none"/><circle cx="397.25" cy="424.91" r="0.6"/><circle cx="401.37" cy="430.93" r="0.6"/><circle cx="405.48" cy="433.99" r="0.6"/><circle cx="413.72" cy="436.94" r="0.6"/><circle cx="417.83" cy="440" r="0.6"/><circle cx="421.95" cy="449.07" r="0.6"/><circle cx="426.07" cy="452.03" r="0.6"/><circle cx="434.3" cy="455.09" r="0.6"/><circle cx="446.65" cy="458.04" r="0.6"/><path d="M508.2 458.04l0.7 -1.3" stroke="#222" stroke-width="0.9" fill="none"/><path d="M430.18 486v-1.4" stroke="#111" stroke-width="0.9"/><path d="M384.9 416.2V524.4H511.1" fill="none" stroke="#111" stroke-width="1.15"/><path d="M381.5 524.4H384.9M381.5 498.02H384.9M381.5 471.65H384.9M381.5 445.27H384.9M381.5 418.9H384.9M384.9 524.4V527.3M426.07 524.4V527.3M467.23 524.4V527.3M508.4 524.4V527.3" stroke="#111" stroke-width="1.15"/><text x="378" y="527.15" font-size="7.7" text-anchor="end" stroke="#111" stroke-width="0.15">0</text><text x="378" y="500.77" font-size="7.7" text-anchor="end" stroke="#111" stroke-width="0.15">25</text><text x="378" y="474.4" font-size="7.7" text-anchor="end" stroke="#111" stroke-width="0.15">50</text><text x="378" y="448.02" font-size="7.7" text-anchor="end" stroke="#111" stroke-width="0.15">75</text><text x="378" y="421.65" font-size="7.7" text-anchor="end" stroke="#111" stroke-width="0.15"> 00</text><text x="384.9" y="537.2" font-size="7.7" text-anchor="middle" stroke="#111" stroke-width="0.15">0</text><text x="426.07" y="537.2" font-size="7.7" text-anchor="middle" stroke="#111" stroke-width="0.15"> 0</text><text x="467.23" y="537.2" font-size="7.7" text-anchor="middle" stroke="#111" stroke-width="0.15">20</text><text x="508.4" y="537.2" font-size="7.7" text-anchor="middle" stroke="#111" stroke-width="0.15">30</text><path d="M436.9 427.85H447.6" stroke="#5872a8" stroke-width="1.3"/><path d="M436.9 436.7H447.6" stroke="#c73d5e" stroke-width="1.3"/><circle cx="442.25" cy="427.85" r="0.6"/><circle cx="442.25" cy="436.7" r="0.6"/><text x="452.4" y="430.6" font-size="7.6" textLength="53.9" lengthAdjust="spacingAndGlyphs" stroke="#111" stroke-width="0.1">≥ 75th percentile</text><text x="452.4" y="438.8" font-size="7.6" textLength="53.9" lengthAdjust="spacingAndGlyphs" stroke="#111" stroke-width="0.1">&lt; 75th percentile</text><text x="452.1" y="451.8" font-size="7.5" textLength="17.3" lengthAdjust="spacingAndGlyphs" stroke="#111" stroke-width="0.15"><tspan font-style="italic">n</tspan>=35</text><text x="452.1" y="480.7" font-size="7.5" textLength="16.6" lengthAdjust="spacingAndGlyphs" stroke="#111" stroke-width="0.15"><tspan font-style="italic">n</tspan>=  </text><text x="476.65" y="516.4" font-size="7.6" font-style="italic" stroke="#111" stroke-width="0.15">p</text><text x="479.8" y="516.4" font-size="7.6" textLength="5.8" lengthAdjust="spacingAndGlyphs" stroke="#111" stroke-width="0.15">=</text><text x="485.75" y="516.4" font-size="7.6" textLength="22.5" lengthAdjust="spacingAndGlyphs" stroke="#111" stroke-width="0.15">0.0352</text><text transform="translate(359.6 520.7) rotate(-90)" x="0" y="0" font-size="8.8" stroke="#111" stroke-width="0.3" textLength="100.9" lengthAdjust="spacingAndGlyphs">Exacerbation-free survival rate (%)</text><text x="441.3" y="551.1" font-size="10" textLength="13.2" lengthAdjust="spacingAndGlyphs" stroke="#111" stroke-width="0.3">Days</text></g>
<g fill="#111"><path transform="matrix(0.004 0 0 -0.005 101.232 30.7)" d="M583 0H763V1409H646C600 1290 430 1110 223 1000V830C360 885 500 970 583 1050Z" stroke="#111" stroke-width="0.24" vector-effect="non-scaling-stroke"/><path transform="matrix(0.004 0 0 -0.004 20.732 50.35)" d="M583 0H763V1409H646C600 1290 430 1110 223 1000V830C360 885 500 970 583 1050Z" stroke="#111" stroke-width="0.21" vector-effect="non-scaling-stroke"/><path transform="matrix(0.004 0 0 -0.004 76.759 167.1)" d="M583 0H763V1409H646C600 1290 430 1110 223 1000V830C360 885 500 970 583 1050Z" stroke="#111" stroke-width="0.21" vector-effect="non-scaling-stroke"/><path transform="matrix(0.004 0 0 -0.005 272.484 30.6)" d="M583 0H763V1409H646C600 1290 430 1110 223 1000V830C360 885 500 970 583 1050Z" stroke="#111" stroke-width="0.24" vector-effect="non-scaling-stroke"/><path transform="matrix(0.004 0 0 -0.004 190.672 50.65)" d="M583 0H763V1409H646C600 1290 430 1110 223 1000V830C360 885 500 970 583 1050Z" stroke="#111" stroke-width="0.21" vector-effect="non-scaling-stroke"/><path transform="matrix(0.004 0 0 -0.004 247.369 167.1)" d="M583 0H763V1409H646C600 1290 430 1110 223 1000V830C360 885 500 970 583 1050Z" stroke="#111" stroke-width="0.21" vector-effect="non-scaling-stroke"/><path transform="matrix(0.004 0 0 -0.004 298.463 59.8)" d="M583 0H763V1409H646C600 1290 430 1110 223 1000V830C360 885 500 970 583 1050Z" stroke="#111" stroke-width="0.16" vector-effect="non-scaling-stroke"/><path transform="matrix(0.004 0 0 -0.004 298.256 67.2)" d="M583 0H763V1409H646C600 1290 430 1110 223 1000V830C360 885 500 970 583 1050Z" stroke="#111" stroke-width="0.16" vector-effect="non-scaling-stroke"/><path transform="matrix(0.004 0 0 -0.005 445.574 30.6)" d="M583 0H763V1409H646C600 1290 430 1110 223 1000V830C360 885 500 970 583 1050Z" stroke="#111" stroke-width="0.24" vector-effect="non-scaling-stroke"/><path transform="matrix(0.004 0 0 -0.004 363.622 51.71)" d="M583 0H763V1409H646C600 1290 430 1110 223 1000V830C360 885 500 970 583 1050Z" stroke="#111" stroke-width="0.21" vector-effect="non-scaling-stroke"/><path transform="matrix(0.004 0 0 -0.004 420.249 167.1)" d="M583 0H763V1409H646C600 1290 430 1110 223 1000V830C360 885 500 970 583 1050Z" stroke="#111" stroke-width="0.21" vector-effect="non-scaling-stroke"/><path transform="matrix(0.004 0 0 -0.004 471.202 60.4)" d="M583 0H763V1409H646C600 1290 430 1110 223 1000V830C360 885 500 970 583 1050Z" stroke="#111" stroke-width="0.16" vector-effect="non-scaling-stroke"/><path transform="matrix(0.004 0 0 -0.004 470.994 68.1)" d="M583 0H763V1409H646C600 1290 430 1110 223 1000V830C360 885 500 970 583 1050Z" stroke="#111" stroke-width="0.16" vector-effect="non-scaling-stroke"/><path transform="matrix(0.004 0 0 -0.005 100.739 215.8)" d="M583 0H763V1409H646C600 1290 430 1110 223 1000V830C360 885 500 970 583 1050Z" stroke="#111" stroke-width="0.24" vector-effect="non-scaling-stroke"/><path transform="matrix(0.004 0 0 -0.004 20.732 235.85)" d="M583 0H763V1409H646C600 1290 430 1110 223 1000V830C360 885 500 970 583 1050Z" stroke="#111" stroke-width="0.21" vector-effect="non-scaling-stroke"/><path transform="matrix(0.004 0 0 -0.004 77.059 353.1)" d="M583 0H763V1409H646C600 1290 430 1110 223 1000V830C360 885 500 970 583 1050Z" stroke="#111" stroke-width="0.21" vector-effect="non-scaling-stroke"/><path transform="matrix(0.004 0 0 -0.005 273.092 215.9)" d="M583 0H763V1409H646C600 1290 430 1110 223 1000V830C360 885 500 970 583 1050Z" stroke="#111" stroke-width="0.24" vector-effect="non-scaling-stroke"/><path transform="matrix(0.004 0 0 -0.004 192.472 235.65)" d="M583 0H763V1409H646C600 1290 430 1110 223 1000V830C360 885 500 970 583 1050Z" stroke="#111" stroke-width="0.21" vector-effect="non-scaling-stroke"/><path transform="matrix(0.004 0 0 -0.004 249.119 353)" d="M583 0H763V1409H646C600 1290 430 1110 223 1000V830C360 885 500 970 583 1050Z" stroke="#111" stroke-width="0.21" vector-effect="non-scaling-stroke"/><path transform="matrix(0.004 0 0 -0.004 315.542 285.4)" d="M583 0H763V1409H646C600 1290 430 1110 223 1000V830C360 885 500 970 583 1050Z" stroke="#111" stroke-width="0.21" vector-effect="non-scaling-stroke"/><path transform="matrix(0.004 0 0 -0.005 446.044 215.7)" d="M583 0H763V1409H646C600 1290 430 1110 223 1000V830C360 885 500 970 583 1050Z" stroke="#111" stroke-width="0.24" vector-effect="non-scaling-stroke"/><path transform="matrix(0.004 0 0 -0.004 365.422 237.15)" d="M583 0H763V1409H646C600 1290 430 1110 223 1000V830C360 885 500 970 583 1050Z" stroke="#111" stroke-width="0.21" vector-effect="non-scaling-stroke"/><path transform="matrix(0.004 0 0 -0.004 421.789 353)" d="M583 0H763V1409H646C600 1290 430 1110 223 1000V830C360 885 500 970 583 1050Z" stroke="#111" stroke-width="0.21" vector-effect="non-scaling-stroke"/><path transform="matrix(0.004 0 0 -0.004 465.739 263.4)" d="M583 0H763V1409H646C600 1290 430 1110 223 1000V830C360 885 500 970 583 1050Z" stroke="#111" stroke-width="0.21" vector-effect="non-scaling-stroke"/><path transform="matrix(0.004 0 0 -0.004 469.712 263.4)" d="M583 0H763V1409H646C600 1290 430 1110 223 1000V830C360 885 500 970 583 1050Z" stroke="#111" stroke-width="0.21" vector-effect="non-scaling-stroke"/><path transform="matrix(0.005 0 0 -0.005 117.884 401.8)" d="M583 0H763V1409H646C600 1290 430 1110 223 1000V830C360 885 500 970 583 1050Z" stroke="#111" stroke-width="0.24" vector-effect="non-scaling-stroke"/><path transform="matrix(0.004 0 0 -0.004 20.772 423.25)" d="M583 0H763V1409H646C600 1290 430 1110 223 1000V830C360 885 500 970 583 1050Z" stroke="#111" stroke-width="0.21" vector-effect="non-scaling-stroke"/><path transform="matrix(0.004 0 0 -0.004 76.849 537.3)" d="M583 0H763V1409H646C600 1290 430 1110 223 1000V830C360 885 500 970 583 1050Z" stroke="#111" stroke-width="0.21" vector-effect="non-scaling-stroke"/><path transform="matrix(0.004 0 0 -0.005 288.177 401.5)" d="M583 0H763V1409H646C600 1290 430 1110 223 1000V830C360 885 500 970 583 1050Z" stroke="#111" stroke-width="0.24" vector-effect="non-scaling-stroke"/><path transform="matrix(0.004 0 0 -0.004 191.122 421.4)" d="M583 0H763V1409H646C600 1290 430 1110 223 1000V830C360 885 500 970 583 1050Z" stroke="#111" stroke-width="0.21" vector-effect="non-scaling-stroke"/><path transform="matrix(0.004 0 0 -0.004 247.419 537.2)" d="M583 0H763V1409H646C600 1290 430 1110 223 1000V830C360 885 500 970 583 1050Z" stroke="#111" stroke-width="0.21" vector-effect="non-scaling-stroke"/><path transform="matrix(0.004 0 0 -0.004 292.644 494.6)" d="M583 0H763V1409H646C600 1290 430 1110 223 1000V830C360 885 500 970 583 1050Z" stroke="#111" stroke-width="0.21" vector-effect="non-scaling-stroke"/><path transform="matrix(0.004 0 0 -0.005 463.014 401.5)" d="M583 0H763V1409H646C600 1290 430 1110 223 1000V830C360 885 500 970 583 1050Z" stroke="#111" stroke-width="0.24" vector-effect="non-scaling-stroke"/><path transform="matrix(0.004 0 0 -0.004 365.172 421.65)" d="M583 0H763V1409H646C600 1290 430 1110 223 1000V830C360 885 500 970 583 1050Z" stroke="#111" stroke-width="0.21" vector-effect="non-scaling-stroke"/><path transform="matrix(0.004 0 0 -0.004 421.789 537.2)" d="M583 0H763V1409H646C600 1290 430 1110 223 1000V830C360 885 500 970 583 1050Z" stroke="#111" stroke-width="0.21" vector-effect="non-scaling-stroke"/><path transform="matrix(0.004 0 0 -0.004 460.492 480.7)" d="M583 0H763V1409H646C600 1290 430 1110 223 1000V830C360 885 500 970 583 1050Z" stroke="#111" stroke-width="0.21" vector-effect="non-scaling-stroke"/><path transform="matrix(0.004 0 0 -0.004 464.588 480.7)" d="M583 0H763V1409H646C600 1290 430 1110 223 1000V830C360 885 500 970 583 1050Z" stroke="#111" stroke-width="0.21" vector-effect="non-scaling-stroke"/></g>
<rect x="0.5" y="0.5" width="519" height="559" fill="none" stroke="#111" stroke-width="1"/>
</svg></body></html>
